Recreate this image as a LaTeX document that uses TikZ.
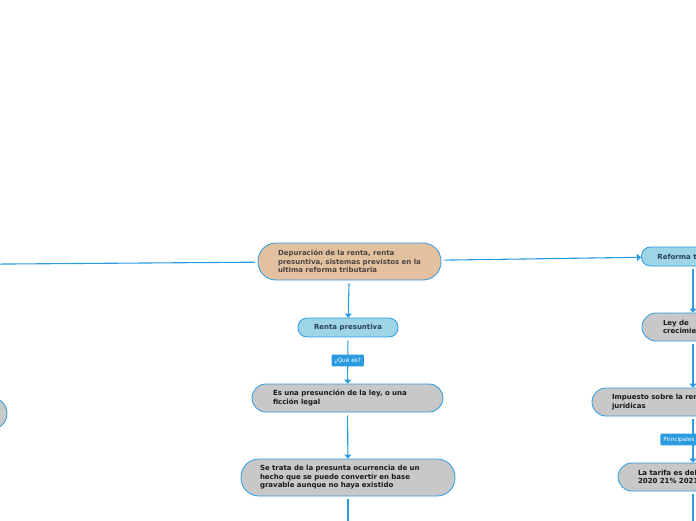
\documentclass[tikz,border=0pt]{standalone}
\usepackage{fontspec}
\setmainfont{DejaVu Sans}
\usepackage{xcolor}
\usepackage{tikz}
\usetikzlibrary{
  positioning,
  arrows.meta
}
\definecolor{mapblue}{HTML}{2A9BE0}
\definecolor{maptan}{HTML}{E2C0A0}
\definecolor{mapsky}{HTML}{9DD5E6}
\definecolor{mapgray}{HTML}{C8C8C8}
\definecolor{maptext}{HTML}{4A4440}
\definecolor{mapnavy}{HTML}{2B3F55}
\tikzset{
  >=Latex,
  maplink/.style={draw=mapblue,line width=1.1pt,shorten <=3pt},
  maparrow/.style={maplink,-{Triangle[length=4pt,width=7pt]}},
  mapnode/.style={rectangle,draw=mapblue,line width=0.8pt,align=left,font=\fontsize{7}{8.5}\selectfont\bfseries},
  central/.style={mapnode,fill=maptan,text=maptext,rounded corners=18pt,minimum height=37pt},
  subtopic/.style={mapnode,fill=mapsky,text=mapnavy,rounded corners=9pt,minimum height=19pt},
  idea/.style={mapnode,fill=mapgray,text=black!90,rounded corners=14pt,minimum height=28pt},
  tag/.style={rectangle,fill=mapblue,text=white,rounded corners=1pt,inner xsep=3pt,inner ysep=3pt,font=\fontsize{5.8}{7}\selectfont}
}

\begin{document}
\begin{tikzpicture}[x=1pt,y=-1pt]
    \useasboundingbox (0,0) rectangle (696,520);
    \fill[white] (0,0) rectangle (696,520);
    \clip (0,0) rectangle (696,520);

    \node[central,text width=143pt,inner xsep=20pt] (root) at (349.5,261.5) {Depuración de la renta, renta\\presuntiva, sistemas previstos en la\\ultima reforma tributaria};
    \node[subtopic,minimum width=100pt,align=center] (rp) at (348,327.5) {Renta presuntiva};
    \node[idea,text width=149pt,inner xsep=21pt] (es) at (347.5,398) {Es una presunción de la ley, o una\\ficción legal};
    \node[idea,minimum height=37pt,rounded corners=18pt,text width=176pt,inner xsep=19pt] (trata) at (348,477.5) {Se trata de la presunta ocurrencia de un\\hecho que se puede convertir en base\\gravable aunque no haya existido};
    \node[idea,minimum width=120pt,minimum height=32pt,rounded corners=16pt] (izq) at (-53,413.5) {};

    \node[subtopic,anchor=west,inner xsep=16pt] (ref) at (641,256.5) {Reforma tributaria};
    \node[idea,text width=60pt,inner xsep=21pt] (ley) at (693,327) {Ley de\\crecimiento};
    \node[idea,text width=162pt,inner xsep=20pt] (imp) at (693,402) {Impuesto sobre la renta de personas\\jurídicas};
    \node[idea,text width=110pt,inner xsep=20pt] (tarifa) at (693,477) {La tarifa es del 32\% en el\\2020 21\% 2021};

    \coordinate (izqarriba) at (-60,264.5);
    \coordinate (centroabajo) at (348,545);
    \coordinate (derabajo) at (693,545);

    \draw[maparrow] (root) -- (izqarriba);
    \draw[maparrow] (root) -- (ref);
    \draw[maparrow] (root) -- (rp);
    \draw[maparrow] (rp) -- node[tag] (quees) {¿Qué es?} (es);
    \draw[maparrow] (es) -- (trata);
    \draw[maparrow] (trata) -- (centroabajo);

    \draw[maparrow] (ley.north |- ref.south) -- (ley);
    \draw[maparrow] (ley) -- (imp);
    \draw[maparrow] (imp) -- node[tag,xshift=-14pt] (princ) {Principales} (tarifa);
    \draw[maparrow] (tarifa) -- (derabajo);
\end{tikzpicture}
\end{document}
